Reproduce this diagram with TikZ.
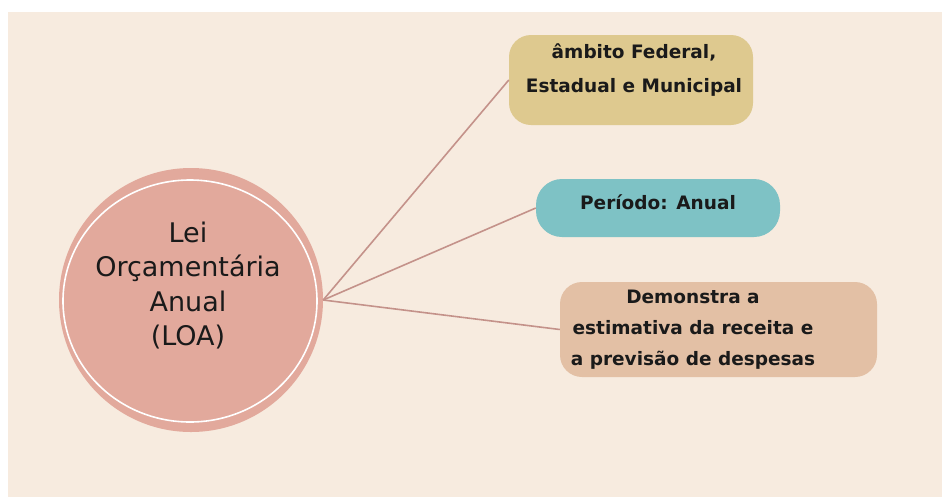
\documentclass[tikz,border=0pt]{standalone}
\usepackage{fontspec}
\setmainfont{DejaVu Sans}
\usetikzlibrary{shapes.geometric}
\definecolor{bgbeige}{HTML}{F7EBDF}
\definecolor{loapink}{HTML}{E2A99C}
\definecolor{fedgold}{HTML}{DEC98F}
\definecolor{perteal}{HTML}{7EC2C5}
\definecolor{demtan}{HTML}{E3C0A5}
\definecolor{linkrose}{HTML}{C4928A}
\definecolor{inkblack}{HTML}{1A1A1A}

\begin{document}
\begin{tikzpicture}[
    x=1pt, y=-1pt,
    every node/.style={text=inkblack},
    loa/.style={
      circle, fill=loapink, minimum size=264pt, inner sep=0pt,
    },
    ring/.style={
      ellipse, draw=white, line width=1.6pt,
      minimum width=254pt, minimum height=242pt, inner sep=0pt,
    },
    topic/.style={
      rounded corners=22pt, inner sep=0pt,
    },
    topictxt/.style={
      align=center, font=\bfseries\fontsize{18.5}{34}\selectfont,
    },
    link/.style={linkrose, line width=1.6pt},
  ]
    \useasboundingbox (0,0) rectangle (942,499);
    \fill[white] (0,0) rectangle (942,499);
    \fill[bgbeige] (8,12) rectangle (942,497);

    % centre
    \node[loa] (lei) at (191,300) {};
    \node[ring] (leiring) at (190,301) {};
    \node[align=center, font=\fontsize{27}{34.5}\selectfont] (leitxt) at (188,285.5)
      {Lei\\Orçamentária\\Anual\\(LOA)};

    % topics
    \node[topic, fill=fedgold, minimum width=244pt, minimum height=90pt] (fed) at (631,80) {};
    \node[topictxt] (fedtxt) at (634,70.5) {âmbito Federal,\\Estadual e Municipal};

    \node[topic, fill=perteal, minimum width=244pt, minimum height=58pt, rounded corners=26pt] (per) at (658,208) {};
    \node[topictxt] (pertxt) at (658,202.5) {Período: Anual};

    \node[topic, fill=demtan, minimum width=317pt, minimum height=95pt] (dem) at (718.5,329.5) {};
    \node[topictxt, font=\bfseries\fontsize{18.5}{31}\selectfont] (demtxt) at (693,330)
      {Demonstra a\\estimativa da receita e\\a previsão de despesas};

    % links
    \draw[link] (lei.east) -- (fed.west);
    \draw[link] (lei.east) -- (per.west);
    \draw[link] (lei.east) -- (dem.west);
  \end{tikzpicture}
\end{document}
